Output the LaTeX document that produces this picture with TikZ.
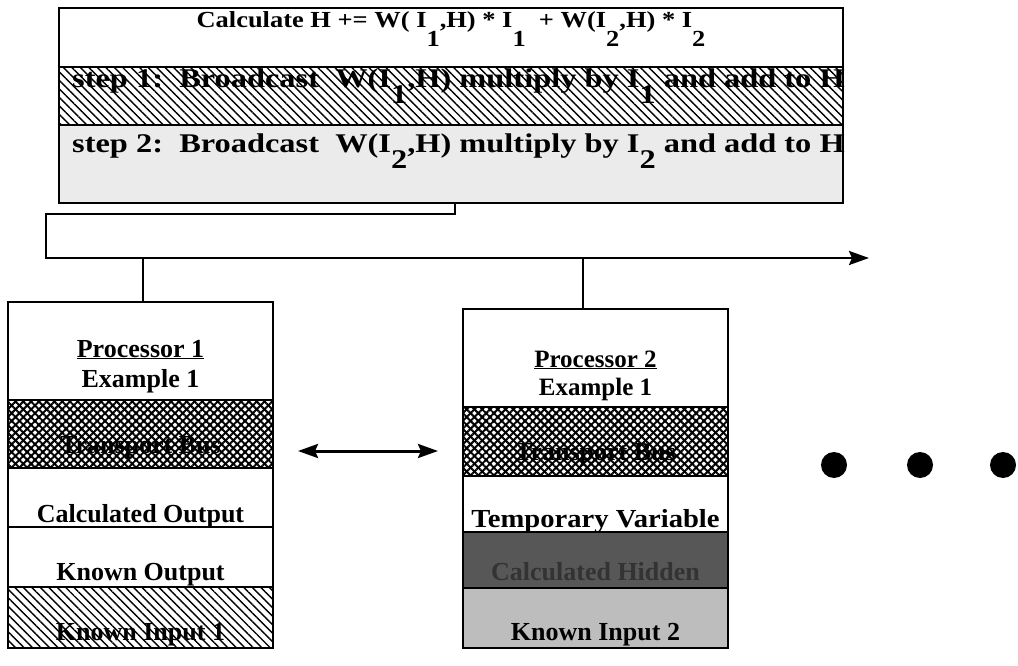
\documentclass[tikz,border=0pt]{standalone}
\usepackage{fontspec}
\setmainfont{Liberation Serif}
\usetikzlibrary{patterns.meta,arrows.meta}
\newcommand\dn[2]{\raisebox{-#1}{#2}}
\begin{document}
\begin{tikzpicture}[x=1pt,y=-1pt,line join=miter,
  >={Stealth[length=20pt,width=14pt,inset=3pt]},
  row/.style={draw,line width=2.5pt,anchor=north west,inner sep=0pt,outer sep=0pt},
  hatch/.style={pattern={Lines[angle=-45,distance=6pt,line width=1.4pt]}},
  cross/.style={preaction={fill=white},preaction={pattern={Lines[angle=45,distance=5.5pt,line width=2pt]}},pattern={Lines[angle=-45,distance=5.5pt,line width=2pt]}},
  lightgray/.style={fill=black!8},
  darkgray/.style={fill=black!66},
  midgray/.style={fill=black!26},
  lbl/.style={anchor=base,inner sep=0pt,font=\fontsize{26}{28}\selectfont\bfseries},
  toptxt/.style={anchor=base,inner sep=0pt,font=\fontsize{23}{24}\selectfont\bfseries},
  steptxt/.style={anchor=base west,inner sep=0pt,font=\fontsize{27}{28}\selectfont\bfseries},
  conn/.style={line width=2.5pt},
  dot/.style={circle,fill=black,minimum size=26pt,inner sep=0pt}]
\useasboundingbox (0,0) rectangle (1018,666);
% top box
\node[row,minimum width=784pt,minimum height=59pt] (t0) at (59,8) {};
\node[row,hatch,minimum width=784pt,minimum height=58pt] (t1) at (59,67) {};
\node[row,lightgray,minimum width=784pt,minimum height=78pt] (t2) at (59,125) {};
\node[toptxt] (t0l) at (451,28) {\scalebox{1.15}[1]{Calculate H += W( I\dn{19pt}{1},H) * I\dn{19pt}{1}\ \ + W(I\dn{19pt}{2},H) * I\dn{19pt}{2}}};
\node[steptxt] (t1l) at (72,88) {\scalebox{1.2}[1]{step 1:\ \ Broadcast\ \ W(I\dn{16pt}{1},H) multiply by I\dn{16pt}{1} and add to H}};
\node[steptxt] (t2l) at (72,153) {\scalebox{1.2}[1]{step 2:\ \ Broadcast\ \ W(I\dn{16pt}{2},H) multiply by I\dn{16pt}{2} and add to H}};
% processor 1
\node[row,minimum width=265pt,minimum height=98pt] (p1a) at (8,302) {};
\node[row,cross,minimum width=265pt,minimum height=68pt] (p1b) at (8,400) {};
\node[row,minimum width=265pt,minimum height=59pt] (p1c) at (8,468) {};
\node[row,minimum width=265pt,minimum height=60pt] (p1d) at (8,527) {};
\node[row,hatch,minimum width=265pt,minimum height=61pt] (p1e) at (8,587) {};
\node[lbl] (p1l1) at (140.5,357) {\underline{Processor 1}};
\node[lbl] (p1l2) at (140.5,387) {Example 1};
\node[lbl] (p1l3) at (140.5,453) {Transport Bus};
\node[lbl] (p1l4) at (140.5,522) {Calculated Output};
\node[lbl] (p1l5) at (140.5,580) {Known Output};
\node[lbl] (p1l6) at (140.5,640) {Known Input 1};
% processor 2
\node[row,minimum width=265pt,minimum height=98pt] (p2a) at (463,309) {};
\node[row,cross,minimum width=265pt,minimum height=69pt] (p2b) at (463,407) {};
\node[row,minimum width=265pt,minimum height=56pt] (p2c) at (463,476) {};
\node[row,darkgray,minimum width=265pt,minimum height=56pt] (p2d) at (463,532) {};
\node[row,midgray,minimum width=265pt,minimum height=60pt] (p2e) at (463,588) {};
\node[lbl] (p2l1) at (595.5,367) {\fontsize{25}{26}\selectfont\underline{Processor 2}};
\node[lbl] (p2l2) at (595.5,395) {\fontsize{25}{26}\selectfont Example 1};
\node[lbl] (p2l3) at (595.5,460) {Transport Bus};
\node[lbl] (p2l4) at (595.5,527) {\scalebox{1.1}[1]{Temporary Variable}};
\node[lbl,text=black!80] (p2l5) at (595.5,580) {Calculated Hidden};
\node[lbl] (p2l6) at (595.5,640) {Known Input 2};
% bus
\coordinate (b1) at (455,214);
\coordinate (b2) at (46,214);
\coordinate (b3) at (46,258);
\coordinate (b4) at (869,258);
\draw[conn,->] (t2.south -| b1) -- (b1) -- (b2) -- (b3) -- (b4);
\coordinate (d1) at (143,258);
\coordinate (d2) at (583,258);
\draw[conn] (d1) -- (d1 |- p1a.north);
\draw[conn] (d2) -- (d2 |- p2a.north);
% double arrow
\coordinate (da) at (298,451);
\coordinate (db) at (438,451);
\draw[line width=3pt,<->] (da) -- (db);
% dots
\node[dot] (dot1) at (834,465) {};
\node[dot] (dot2) at (920,465) {};
\node[dot] (dot3) at (1003,465) {};
\end{tikzpicture}
\end{document}
